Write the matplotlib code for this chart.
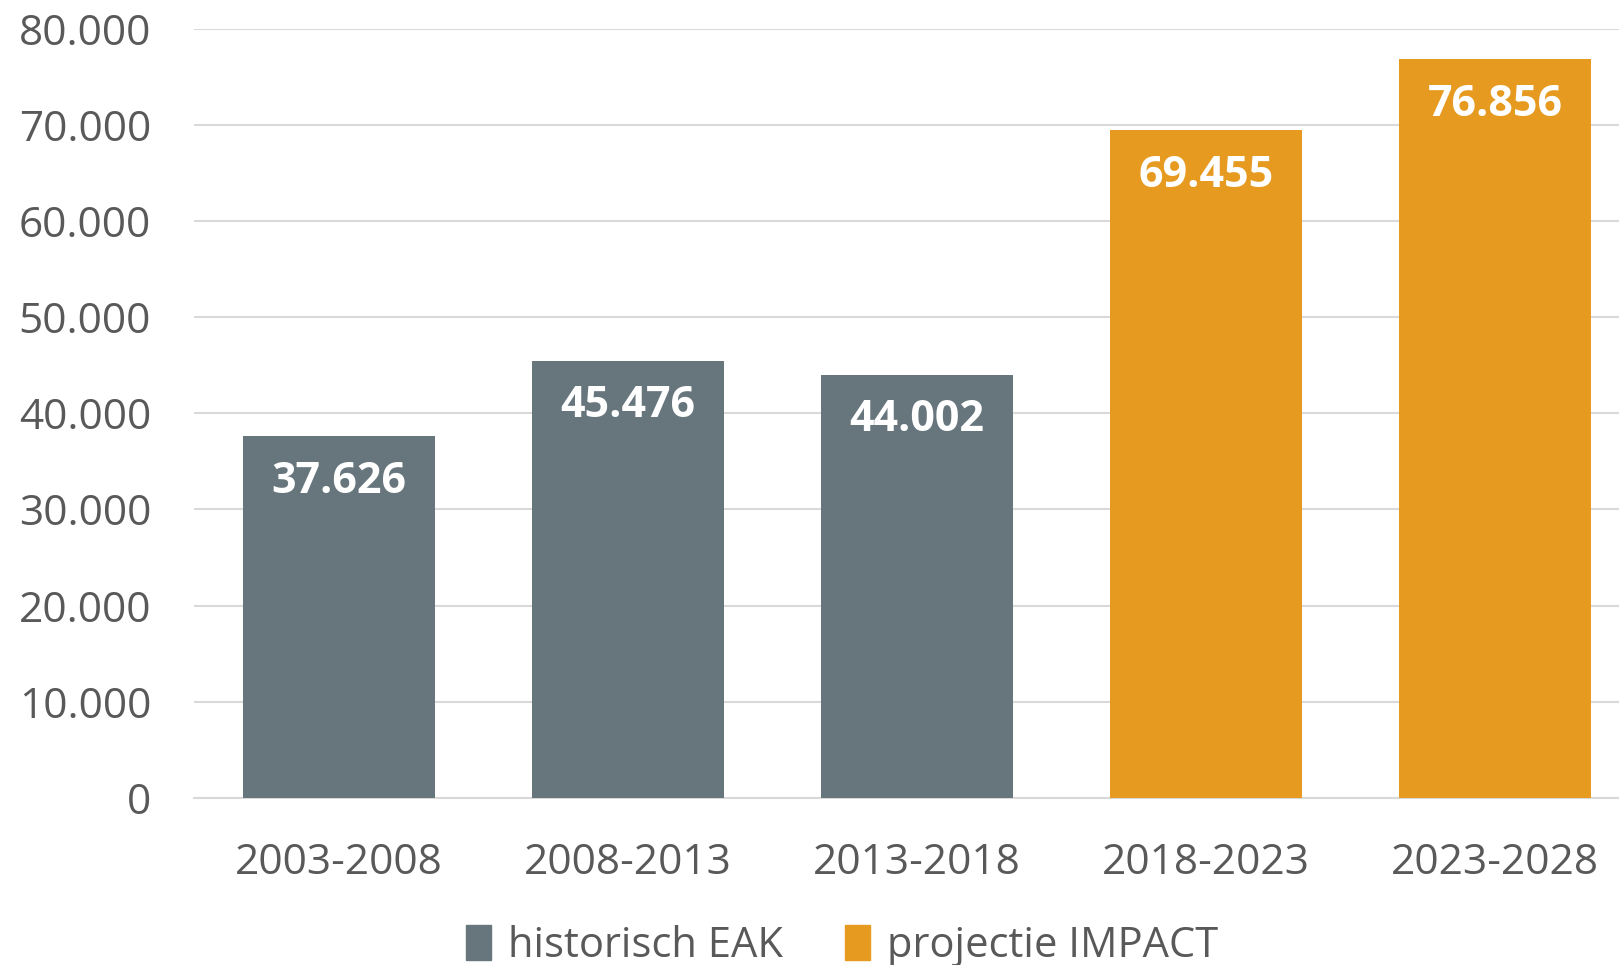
import matplotlib
matplotlib.use("Agg")
import matplotlib.pyplot as plt
from matplotlib.patches import Patch

# --- data ---
periods = ["2003-2008", "2008-2013", "2013-2018", "2018-2023", "2023-2028"]
values = [37626, 45476, 44002, 69455, 76856]
labels = ["37.626", "45.476", "44.002", "69.455", "76.856"]
is_projection = [False, False, False, True, True]
series_names = ["historisch EAK", "projectie IMPACT"]
yticks = [0, 10000, 20000, 30000, 40000, 50000, 60000, 70000, 80000]

GREY = "#67767D"
ORANGE = "#E69B20"
TXT = "#595959"

plt.rcParams["font.family"] = ["Open Sans", "DejaVu Sans"]

fig = plt.figure(figsize=(16.19, 9.65), dpi=100)
ax = fig.add_axes([0.1199, 0.1733, 0.8929, 0.7968])

cols = [ORANGE if p else GREY for p in is_projection]
x = list(range(len(periods)))
bars = ax.bar(x, values, width=0.665, color=cols, zorder=3)

for b, lab in zip(bars, labels):
    ax.annotate(lab, (b.get_x() + b.get_width() / 2, b.get_height()),
                xytext=(0, -17), textcoords="offset points",
                ha="center", va="top", color="white",
                fontsize=31, fontweight="bold", zorder=4)

ax.set_xlim(-0.5, 4.5)
ax.set_ylim(0, 80000)
ax.set_yticks(yticks)
ax.set_yticklabels([f"{v:,}".replace(",", ".") for v in yticks])
ax.set_xticks(x)
ax.set_xticklabels(periods)
ax.tick_params(axis="both", length=0, labelsize=30.5, colors=TXT)
ax.tick_params(axis="y", pad=31)
ax.tick_params(axis="x", pad=32)

ax.grid(axis="y", color="#D9D9D9", linewidth=1.5, zorder=0)
for s in ["top", "right", "left"]:
    ax.spines[s].set_visible(False)
ax.spines["bottom"].set_color("#D9D9D9")
ax.spines["bottom"].set_linewidth(1.5)

handles = [Patch(color=GREY, label=series_names[0]),
           Patch(color=ORANGE, label=series_names[1])]
fig.legend(handles=handles, loc="center", bbox_to_anchor=(0.52, 0.02),
           ncol=2, frameon=False, fontsize=30, labelcolor=TXT,
           handlelength=0.6, handleheight=0.9, handletextpad=0.4,
           columnspacing=1.5)

fig.savefig("out.png", dpi=100)
